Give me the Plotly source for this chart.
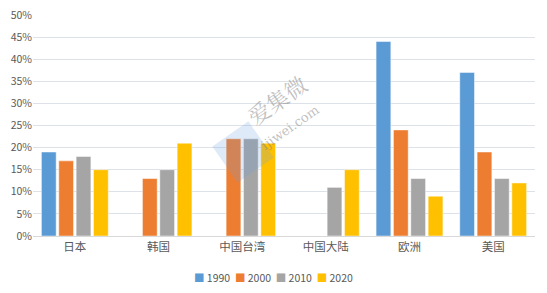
import math
import plotly.graph_objects as go

categories = ["日本", "韩国", "中国台湾", "中国大陆", "欧洲", "美国"]
series_names = ["1990", "2000", "2010", "2020"]
v1990 = [19, None, None, None, 44, 37]
v2000 = [17, 13, 22, None, 24, 19]
v2010 = [18, 15, 22, 11, 13, 13]
v2020 = [15, 21, 21, 15, 9, 12]
colors = ["#5B9BD5", "#ED7D31", "#A5A5A5", "#FFC000"]
yticks = [0, 5, 10, 15, 20, 25, 30, 35, 40, 45, 50]

W, H = 547, 293
ML, MR, MT, MB = 33, 12, 15, 57
PW, PH = W - ML - MR, H - MT - MB


def px2paper(px, py):
    return (px - ML) / PW, (H - MB - py) / PH


fig = go.Figure()
for name, vals, col in zip(series_names, [v1990, v2000, v2010, v2020], colors):
    fig.add_trace(go.Bar(
        x=categories, y=[None if v is None else v / 100 for v in vals],
        name=name, marker=dict(color=col, line=dict(color="rgba(255,255,255,0.8)", width=0.6)),
    ))

# watermark logo (rotated square)
cx, cy, half, ang = 243, 152, 22, math.radians(-35)
pts = []
for dx, dy in [(half, half), (half, -half), (-half, -half), (-half, half)]:
    rx = dx * math.cos(ang) - dy * math.sin(ang)
    ry = dx * math.sin(ang) + dy * math.cos(ang)
    pts.append(px2paper(cx + rx, cy + ry))
path = "M " + " L ".join(f"{x:.4f},{y:.4f}" for x, y in pts) + " Z"
fig.add_shape(type="path", path=path, xref="paper", yref="paper",
              fillcolor="rgba(110,160,225,0.22)", line=dict(width=0), layer="above")
wx, wy = px2paper(277, 100)
fig.add_annotation(x=wx, y=wy, xref="paper", yref="paper", text="爱集微", showarrow=False,
                   textangle=-35, font=dict(size=22, color="rgba(130,130,130,0.5)",
                                            family="Noto Serif CJK SC, Noto Sans CJK SC"))
wx2, wy2 = px2paper(290, 128)
fig.add_annotation(x=wx2, y=wy2, xref="paper", yref="paper", text="ijiwei.com", showarrow=False,
                   textangle=-35, font=dict(size=13, color="rgba(130,130,130,0.5)",
                                            family="DejaVu Serif, serif"))

# legend as text
leg = "  ".join(f"<span style='color:{c}'>■</span> {n}" for n, c in zip(series_names, colors))
lx, ly = px2paper(273, 277)
fig.add_annotation(x=lx, y=ly, xref="paper", yref="paper", text=leg, showarrow=False,
                   font=dict(size=10.5, color="#595959"), xanchor="center", yanchor="middle")

fig.update_layout(
    width=W, height=H,
    margin=dict(l=ML, r=MR, t=MT, b=MB, autoexpand=False),
    paper_bgcolor="white", plot_bgcolor="white",
    barmode="group", bargap=0.17, bargroupgap=0.15,
    font=dict(family="Noto Sans CJK SC, sans-serif", color="#595959", size=11),
    xaxis=dict(showgrid=False, showline=True, linecolor="#D9D9D9", ticks="", tickfont=dict(size=11.5)),
    yaxis=dict(range=[0, 0.5], tickvals=[t / 100 for t in yticks], tickformat=".0%",
               showgrid=True, gridcolor="#DDE1E8", gridwidth=1, zeroline=False, ticks="",
               tickfont=dict(size=10.5)),
    showlegend=False,
)

fig.write_html("out.html")
